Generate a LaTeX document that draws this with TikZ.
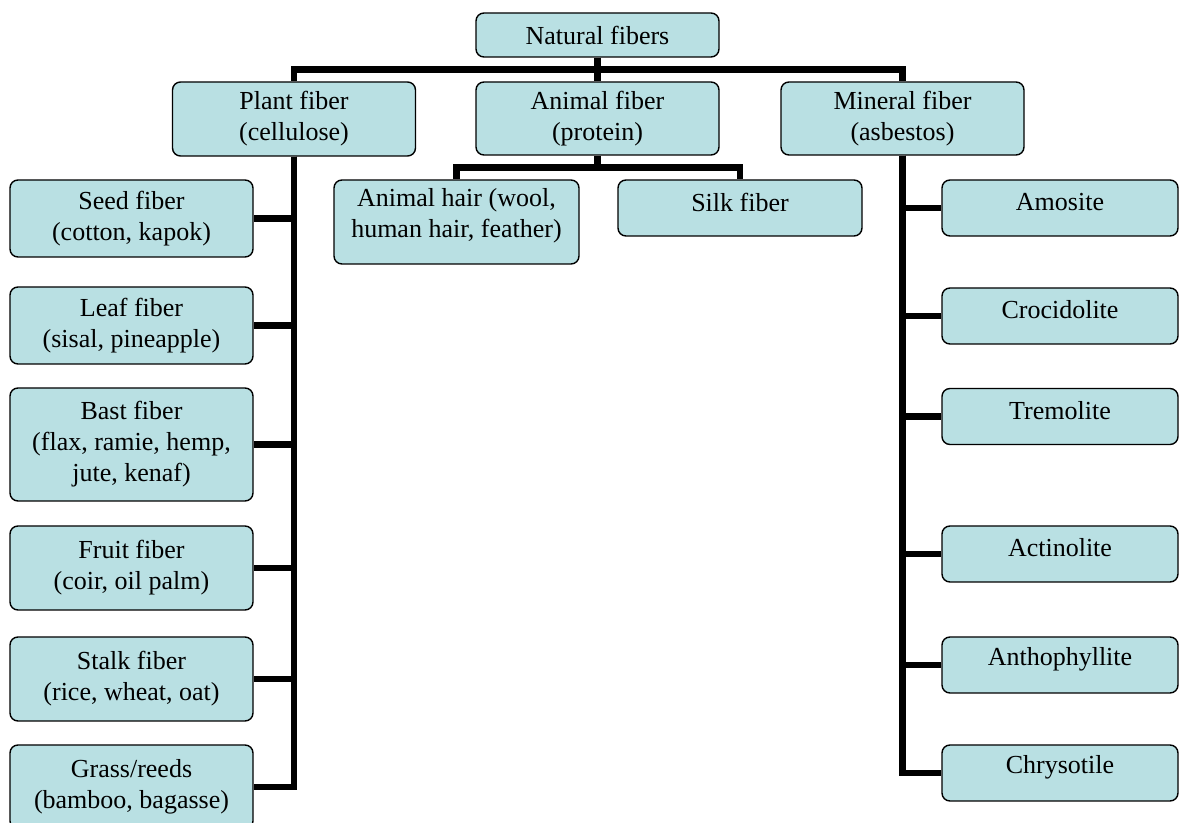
\documentclass[tikz,border=0pt]{standalone}
\usepackage{fontspec}
\setmainfont{Liberation Serif}
\definecolor{fiberfill}{RGB}{185,224,227}
\newcommand{\liftup}[1]{\raisebox{3pt}[\height][\depth]{#1}}

\begin{document}
\begin{tikzpicture}[
    x=0.5pt, y=-0.5pt,
    box/.style={draw, line width=0.7pt, rounded corners=4pt, fill=fiberfill, inner sep=1pt, align=center, font=\fontsize{13}{15.5}\selectfont, minimum width=121.5pt},
    leafbox/.style={box, minimum width=118pt, minimum height=28pt},
    link/.style={line width=3.3pt}
]
    \useasboundingbox (0,0) rectangle (1180,823);

    % Root
    \node[box, minimum height=22pt] (natural) at (597.5,35) {Natural fibers};

    % Main groups
    \node[box, minimum height=37pt] (plant) at (294,119) {Plant fiber\\(cellulose)};
    \node[box, minimum height=36.5pt] (animal) at (597.5,118.5) {Animal fiber\\(protein)};
    \node[box, minimum height=36.5pt] (mineral) at (902.5,118.5) {Mineral fiber\\(asbestos)};

    % Plant fibers
    \node[box, minimum height=38.5pt] (seed) at (131.5,218.5) {Seed fiber\\(cotton, kapok)};
    \node[box, minimum height=38.5pt] (leaf) at (131.5,325.5) {Leaf fiber\\(sisal, pineapple)};
    \node[box, minimum height=56.5pt] (bast) at (131.5,444.5) {Bast fiber\\(flax, ramie, hemp,\\jute, kenaf)};
    \node[box, minimum height=42pt] (fruit) at (131.5,568) {Fruit fiber\\(coir, oil palm)};
    \node[box, minimum height=42pt] (stalk) at (131.5,679) {Stalk fiber\\(rice, wheat, oat)};
    \node[box, minimum height=42pt] (grass) at (131.5,787) {Grass/reeds\\(bamboo, bagasse)};

    % Animal fibers
    \node[box, minimum width=122.5pt, minimum height=42pt] (hair) at (456.5,222) {\liftup{Animal hair (wool,}\\\liftup{human hair, feather)}};
    \node[box, minimum width=122pt, minimum height=28pt] (silk) at (740,208) {\liftup{Silk fiber}};

    % Mineral fibers
    \node[leafbox] (amosite) at (1060,208) {\liftup{Amosite}};
    \node[leafbox] (crocidolite) at (1060,316) {\liftup{Crocidolite}};
    \node[leafbox] (tremolite) at (1060,416.5) {\liftup{Tremolite}};
    \node[leafbox] (actinolite) at (1060,554) {\liftup{Actinolite}};
    \node[leafbox] (anthophyllite) at (1060,665) {\liftup{Anthophyllite}};
    \node[leafbox] (chrysotile) at (1060,773) {\liftup{Chrysotile}};

    % Connections
    \draw[link] (natural.south) -- (animal.north);
    \draw[link] (natural.south) -- ++(0,12) -| (plant.north);
    \draw[link] (natural.south) ++(0,12) -| (mineral.north);

    \foreach \kind in {seed, leaf, bast, fruit, stalk, grass}
        \draw[link] (plant.south) |- (\kind.east);

    \draw[link] (animal.south) -- ++(0,12) -| (hair.north);
    \draw[link] (animal.south) ++(0,12) -| (silk.north);

    \foreach \kind in {amosite, crocidolite, tremolite, actinolite, anthophyllite, chrysotile}
        \draw[link] (mineral.south) |- (\kind.west);

\end{tikzpicture}
\end{document}
